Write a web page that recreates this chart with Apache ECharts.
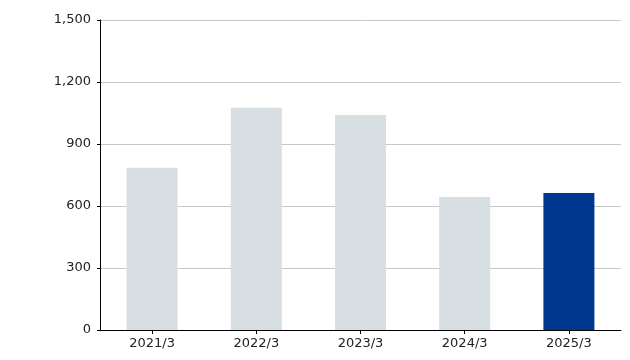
<!DOCTYPE html>
<html><head><meta charset="utf-8">
<script src="https://cdn.jsdelivr.net/npm/echarts@6/dist/echarts.min.js"></script>
<style>html,body{margin:0;padding:0;background:#fff}#c{width:630px;height:360px}</style>
</head><body><div id="c"></div>
<script>
const categories = ['2021/3','2022/3','2023/3','2024/3','2025/3'];
const values = [785, 1076, 1040, 644, 663];
const yTicks = { min: 0, max: 1500, interval: 300 };
const grayColor = '#d8dfe2';
const highlightColor = '#003890';

const chart = echarts.init(document.getElementById('c'), null, {renderer:'canvas'});
chart.setOption({
  animation: false,
  grid: { left: 100, right: 9, top: 20, bottom: 30, containLabel: false },
  xAxis: {
    type: 'category', data: categories,
    axisLine: { lineStyle: { color: '#000', width: 1 } },
    axisTick: { show: true, alignWithLabel: true, length: 4, lineStyle: { color: '#000' } },
    axisLabel: { color: '#222', fontFamily: 'DejaVu Sans', fontSize: 13, margin: 7 },
    splitLine: { show: false }
  },
  yAxis: {
    type: 'value', min: yTicks.min, max: yTicks.max, interval: yTicks.interval,
    axisLine: { show: true, lineStyle: { color: '#000', width: 1 } },
    axisTick: { show: true, length: 3, lineStyle: { color: '#000' } },
    axisLabel: { color: '#222', fontFamily: 'DejaVu Sans', fontSize: 13, margin: 9,
      formatter: v => v.toLocaleString('en-US') },
    splitLine: { lineStyle: { color: '#c8c8c8', width: 1 } }
  },
  series: [{
    type: 'bar', barWidth: 51,
    data: values.map((v, i) => ({ value: v, itemStyle: { color: i === values.length - 1 ? highlightColor : grayColor } }))
  }]
});
</script></body></html>
